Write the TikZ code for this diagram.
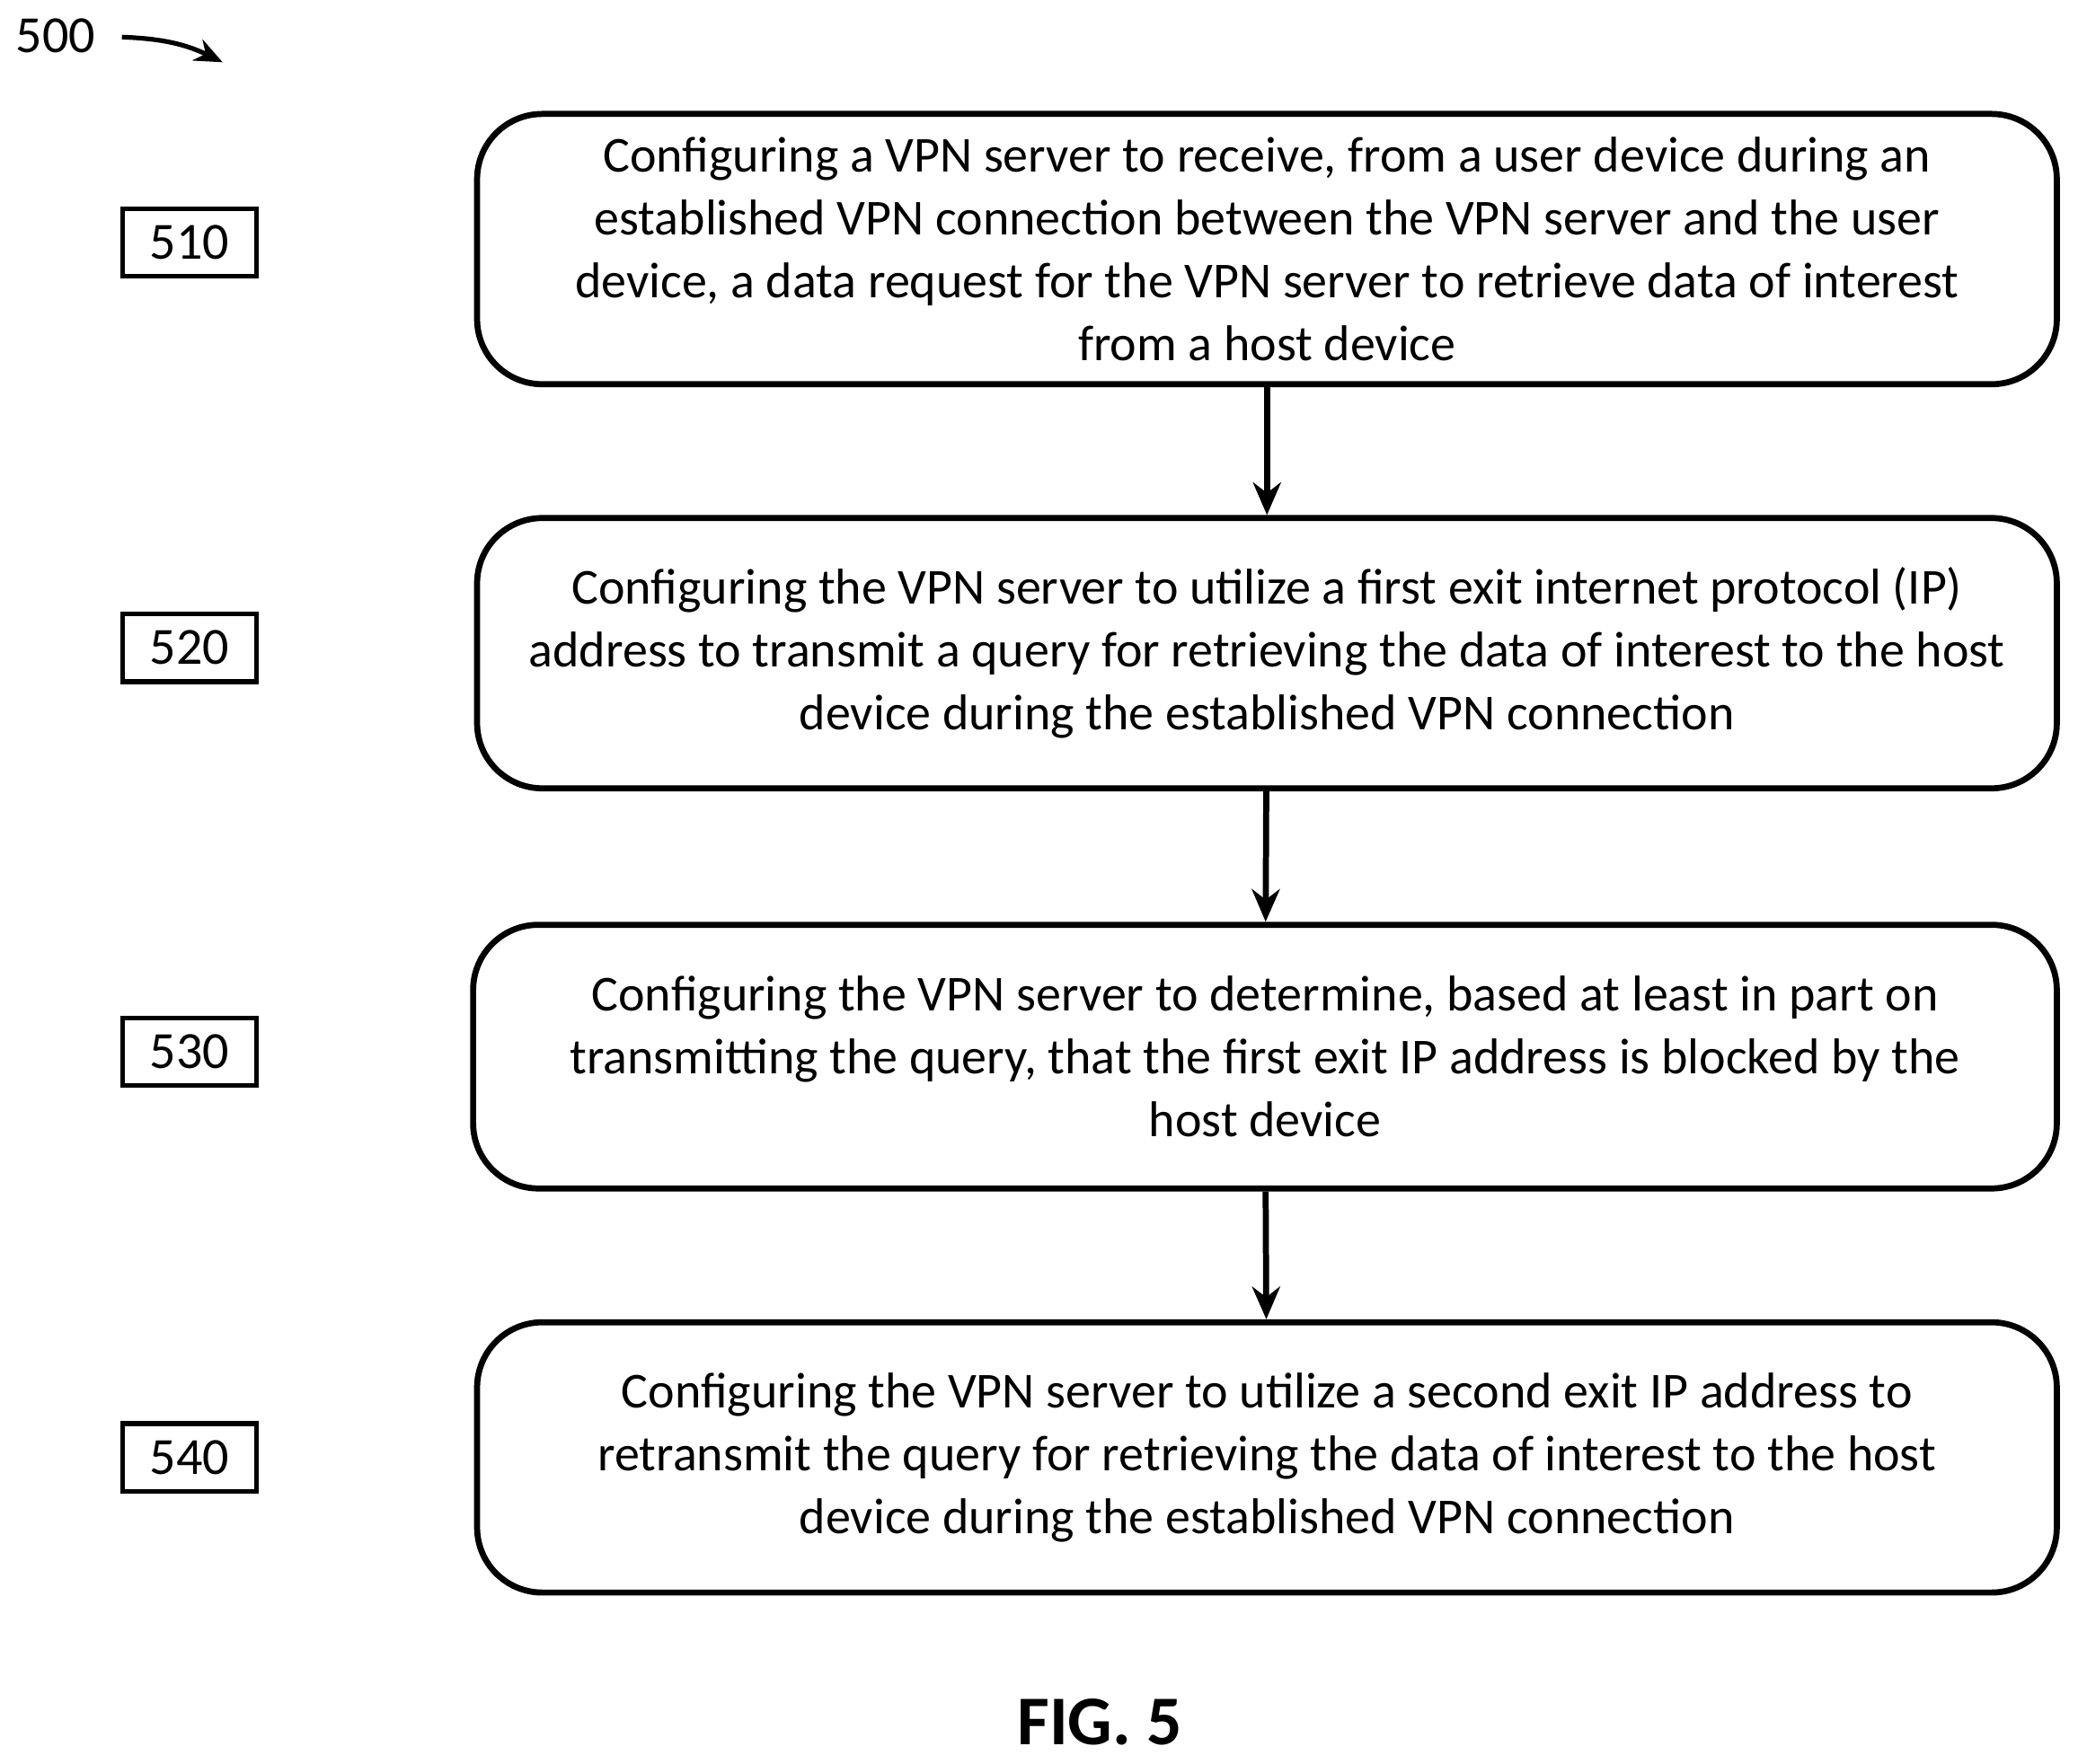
\documentclass[tikz,border=0pt]{standalone}
\usepackage{fontspec}
\setmainfont{Carlito}
\usetikzlibrary{arrows.meta, positioning}

\tikzset{
  stepbox/.style={draw, line width=1.3pt, rounded corners=14pt, minimum width=11.92cm,
    minimum height=2.04cm, align=center,
    font=\fontsize{10.8}{13.5}\selectfont},
  tag/.style={draw, line width=1pt, minimum width=1.01cm, minimum height=0.51cm,
    inner sep=0pt, font=\fontsize{11.2}{13.5}\selectfont},
  flow/.style={-{Stealth[length=7pt, width=6pt]}, line width=1.3pt}
}

\begin{document}
\begin{tikzpicture}
    \useasboundingbox (0,0) rectangle (15.68,-13.31);
    % Figure number
    \node[font=\fontsize{11.2}{13.5}\selectfont] (num) at (0.42,-0.27) {500};
    \draw[-{Stealth[length=6pt, width=5pt]}, line width=1pt] (0.92,-0.28) to[bend left=12] (1.68,-0.47);
    % Steps
    \node[stepbox] (s510) at (9.56,-1.88) {Configuring a VPN server to receive, from a user device during an\\ established VPN connection between the VPN server and the user\\ device, a data request for the VPN server to retrieve data of interest\\ from a host device};
    \node[stepbox] (s520) at (9.56,-4.93) {Configuring the VPN server to utilize a first exit internet protocol (IP)\\ address to transmit a query for retrieving the data of interest to the host\\ device during the established VPN connection};
    \node[stepbox, minimum width=11.95cm, minimum height=1.99cm] (s530) at (9.545,-7.975) {Configuring the VPN server to determine, based at least in part on\\ transmitting the query, that the first exit IP address is blocked by the\\ host device};
    \node[stepbox] (s540) at (9.56,-11.00) {Configuring the VPN server to utilize a second exit IP address to\\ retransmit the query for retrieving the data of interest to the host\\ device during the established VPN connection};
    % Step labels
    \node[tag] (t510) at (1.43,-1.83) {510};
    \node[tag] (t520) at (1.43,-4.89) {520};
    \node[tag] (t530) at (1.43,-7.94) {530};
    \node[tag] (t540) at (1.43,-11.00) {540};
    % Arrows
    \draw[flow] (s510) -- (s520);
    \draw[flow] (s520) -- (s530);
    \draw[flow] (s530) -- (s540);
    % Caption
    \node[font=\bfseries\fontsize{15}{18}\selectfont] (fig) at (8.30,-13.0) {FIG. 5};
\end{tikzpicture}
\end{document}
